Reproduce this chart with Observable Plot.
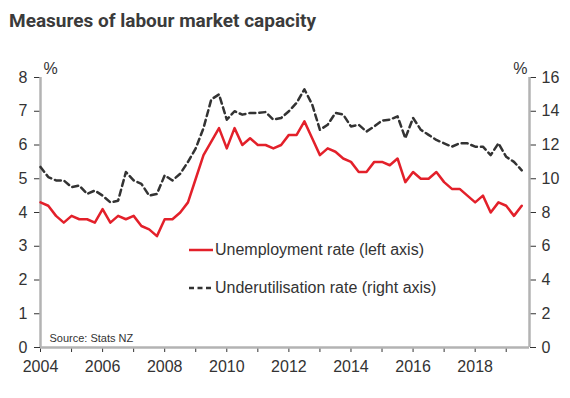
<!DOCTYPE html>
<html>
<head>
<meta charset="utf-8">
<script src="https://cdn.jsdelivr.net/npm/d3@7"></script>
<script src="https://cdn.jsdelivr.net/npm/@observablehq/plot@0.6"></script>
<style>
  body { margin: 0; background: #fff; }
  #wrap { position: relative; width: 570px; height: 398px; overflow: hidden; background: #fff; }
  #title { position: absolute; left: 9px; top: 9px; font-family: Roboto, sans-serif; font-weight: 700; font-size: 19px; color: #3b3b3b; white-space: nowrap; letter-spacing: 0px; }
  #chart { position: absolute; left: 0; top: 45px; }
  .leg { position: absolute; left: 189px; display: flex; align-items: center; font-family: "Liberation Sans", Arial, sans-serif; font-size: 16px; color: #333; white-space: nowrap; }
  .leg svg { margin-right: 2px; }
</style>
</head>
<body>
<div id="wrap">
  <div id="title">Measures of labour market capacity</div>
  <div id="chart"></div>
  <div class="leg" style="top:241px"><svg width="24" height="18"><line x1="0" x2="24" y1="9" y2="9" stroke="#e3202a" stroke-width="2.5"/></svg><span>Unemployment rate (left axis)</span></div>
  <div class="leg" style="top:279px"><svg width="24" height="18"><line x1="0" x2="24" y1="9" y2="9" stroke="#333" stroke-width="2.5" stroke-dasharray="5,3.5"/></svg><span>Underutilisation rate (right axis)</span></div>
</div>
<script>
// Quarterly data, 2004 Q1 to 2019 Q3
const startYear = 2004;
const unemployment = [
  4.3, 4.2, 3.9, 3.7,   // 2004
  3.9, 3.8, 3.8, 3.7,   // 2005
  4.1, 3.7, 3.9, 3.8,   // 2006
  3.9, 3.6, 3.5, 3.3,   // 2007
  3.8, 3.8, 4.0, 4.3,   // 2008
  5.0, 5.7, 6.1, 6.5,   // 2009
  5.9, 6.5, 6.0, 6.2,   // 2010
  6.0, 6.0, 5.9, 6.0,   // 2011
  6.3, 6.3, 6.7, 6.2,   // 2012
  5.7, 5.9, 5.8, 5.6,   // 2013
  5.5, 5.2, 5.2, 5.5,   // 2014
  5.5, 5.4, 5.6, 4.9,   // 2015
  5.2, 5.0, 5.0, 5.2,   // 2016
  4.9, 4.7, 4.7, 4.5,   // 2017
  4.3, 4.5, 4.0, 4.3,   // 2018
  4.2, 3.9, 4.2         // 2019
];
const underutilisation = [
  10.7, 10.1, 9.9, 9.9,   // 2004
  9.5, 9.6, 9.1, 9.3,     // 2005
  9.0, 8.6, 8.7, 10.4,    // 2006
  9.9, 9.7, 9.0, 9.1,     // 2007
  10.2, 9.9, 10.3, 11.0,  // 2008
  11.8, 13.0, 14.7, 15.0, // 2009
  13.5, 14.0, 13.8, 13.9, // 2010
  13.9, 13.95, 13.5, 13.6,// 2011
  14.0, 14.5, 15.3, 14.4, // 2012
  12.9, 13.2, 13.9, 13.8, // 2013
  13.1, 13.2, 12.8, 13.1, // 2014
  13.45, 13.5, 13.7, 12.4,// 2015
  13.6, 12.9, 12.6, 12.3, // 2016
  12.1, 11.9, 12.1, 12.1, // 2017
  11.9, 11.9, 11.4, 12.1, // 2018
  11.3, 11.0, 10.5        // 2019
];
const xDomain = [2004, 2019.75];
const yearTicks = [2004, 2005, 2006, 2007, 2008, 2009, 2010, 2011, 2012, 2013, 2014, 2015, 2016, 2017, 2018, 2019];
const yearLabels = [2004, 2006, 2008, 2010, 2012, 2014, 2016, 2018];
const leftTicks = [0, 1, 2, 3, 4, 5, 6, 7, 8];
const rightTicks = [0, 2, 4, 6, 8, 10, 12, 14, 16];
const ratio = 2; // right axis / left axis

const rows = unemployment.map((u, i) => ({ t: startYear + i / 4, u, w: underutilisation[i] }));

const axisGrey = "#b3b3b3";
const ink = "#333";

const chart = Plot.plot({
  width: 570,
  height: 353,
  marginTop: 32,
  marginBottom: 51,
  marginLeft: 40,
  marginRight: 41,
  style: { fontFamily: "'Liberation Sans', Arial, sans-serif", fontSize: "16px", color: ink, background: "white", overflow: "visible" },
  x: { domain: xDomain },
  y: { domain: [0, 8] },
  marks: [
    Plot.axisX({ ticks: yearTicks, tickFormat: d => yearLabels.includes(d) ? String(d) : "", tickSize: 5, tickPadding: 8, fontSize: 16, label: null }),
    Plot.axisY({ anchor: "left", ticks: leftTicks, tickFormat: d => String(d), tickSize: 6, tickPadding: 7, fontSize: 16, label: null }),
    Plot.axisY({ anchor: "right", ticks: rightTicks.map(v => v / ratio), tickFormat: d => String(d * ratio), tickSize: 6, tickPadding: 6, fontSize: 16, label: null }),
    Plot.ruleX([xDomain[0], xDomain[1]], { stroke: axisGrey, strokeWidth: 2.5 }),
    Plot.ruleY([0], { stroke: axisGrey, strokeWidth: 2.5 }),
    Plot.line(rows, { x: "t", y: d => d.w / ratio, stroke: "#333", strokeWidth: 2.5, strokeDasharray: "6,4" }),
    Plot.line(rows, { x: "t", y: "u", stroke: "#e3202a", strokeWidth: 2.5 }),
    Plot.text(["%"], { frameAnchor: "top-left", dx: 3, dy: -15, fontSize: 16, fill: ink }),
    Plot.text(["%"], { frameAnchor: "top-right", dx: -2, dy: -15, fontSize: 16, fill: ink }),
    Plot.text(["Source: Stats NZ"], { frameAnchor: "bottom-left", dx: 9, dy: -6, fontSize: 11, fill: ink })
  ]
});
document.getElementById("chart").appendChild(chart);
</script>
</body>
</html>
